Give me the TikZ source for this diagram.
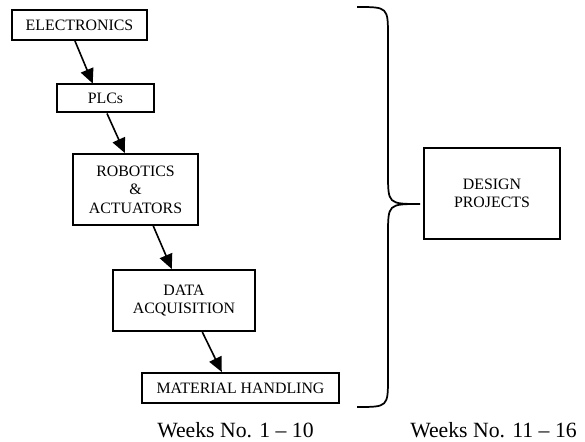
\documentclass[tikz,border=0pt]{standalone}
\usepackage{fontspec}
\setmainfont{Liberation Serif}
\usetikzlibrary{calc,arrows.meta}
\begin{document}
\begin{tikzpicture}[x=0.75pt,y=-0.75pt,
  box/.style={draw,line width=1.5pt,inner sep=0pt,align=center,
    font=\fontsize{11.9}{13.9}\selectfont},
  arr/.style={line width=1.2pt,-{Triangle[length=11pt,width=10pt]}},
  wk/.style={inner sep=0pt,font=\fontsize{16.3}{18}\selectfont}]
\useasboundingbox (0,0) rectangle (585,442);
\node[box,minimum width=101.25pt,minimum height=22.5pt] (E) at (79.5,25) {ELECTRONICS};
\node[box,minimum width=72.75pt,minimum height=21pt] (P) at (105.5,98.5) {PLCs};
\node[box,minimum width=93.75pt,minimum height=53.25pt] (R) at (135.5,189.5) {ROBOTICS\\\&\\ACTUATORS};
\node[box,minimum width=106.5pt,minimum height=45.75pt] (D) at (184,300.5) {DATA\\ACQUISITION};
\node[box,minimum width=147.75pt,minimum height=22.5pt] (M) at (240.5,388) {MATERIAL HANDLING};
\node[box,minimum width=102pt,minimum height=68.25pt] (DP) at (492,193.5) {DESIGN\\PROJECTS};
\draw[arr] ($(E.south west)!0.467!(E.south east)$) -- ($(P.north west)!0.371!(P.north east)$);
\draw[arr] ($(P.south west)!0.515!(P.south east)$) -- ($(R.north west)!0.416!(R.north east)$);
\draw[arr] ($(R.south west)!0.64!(R.south east)$) -- ($(D.north west)!0.415!(D.north east)$);
\draw[arr] ($(D.south west)!0.627!(D.south east)$) -- ($(M.north west)!0.406!(M.north east)$);
\coordinate (tip) at (420,204);
\draw[line width=1.3pt] (357,7) .. controls (388,7) .. (388,37) -- (388,173)
  .. controls (388,204) .. (tip) .. controls (388,204) .. (388,235) -- (388,377)
  .. controls (388,407) .. (357,407);
\node[wk,anchor=base west] (W1) at (157,437) {Weeks No. 1 -- 10};
\node[wk,anchor=base east] (W2) at (577,437) {Weeks No. 11 -- 16};
\end{tikzpicture}
\end{document}
